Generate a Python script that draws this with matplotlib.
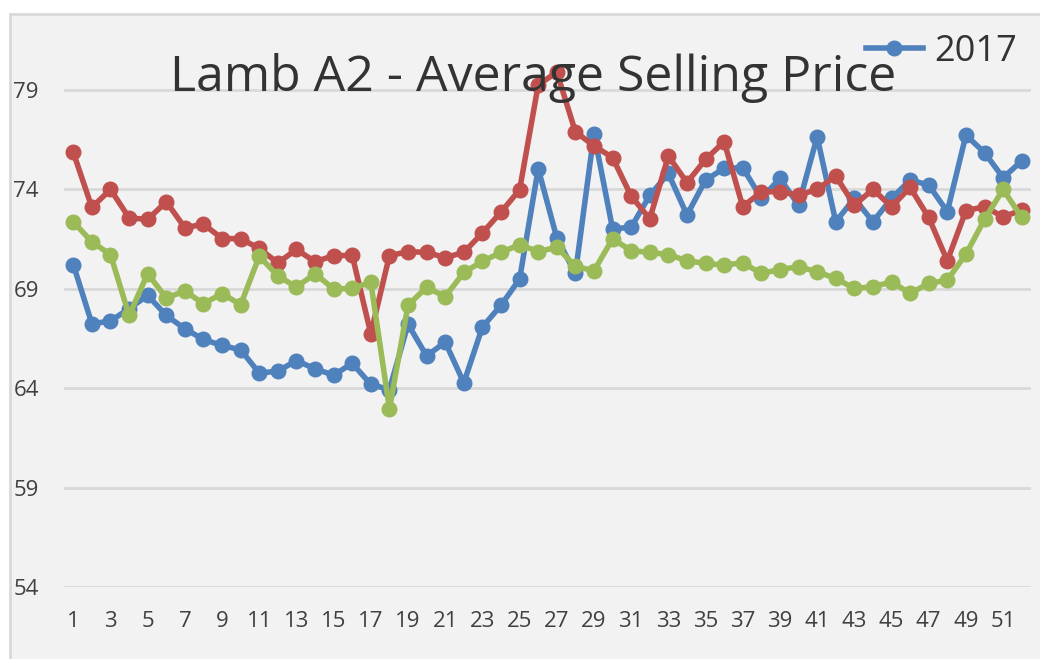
import matplotlib.pyplot as plt
from matplotlib.patches import Rectangle
from matplotlib.lines import Line2D

# =========================================================
# DATA
# =========================================================
weeks = list(range(1, 53))

blue_2017 = [70.22, 67.24, 67.38, 68.00, 68.67, 67.66, 66.99, 66.45, 66.15, 65.93,
             64.76, 64.86, 65.39, 64.97, 64.66, 65.25, 64.19, 63.93, 67.22, 65.62,
             66.32, 64.27, 67.08, 68.17, 69.49, 75.04, 71.56, 69.77, 76.81, 72.01,
             72.10, 73.70, 74.80, 72.71, 74.47, 75.06, 75.09, 73.55, 74.55, 73.21,
             76.65, 72.37, 73.55, 72.37, 73.55, 74.47, 74.22, 72.88, 76.73, 75.85,
             74.59, 75.43]

red_series = [75.86, 73.09, 74.00, 72.57, 72.49, 73.38, 72.07, 72.25, 71.53, 71.52,
              71.03, 70.30, 70.98, 70.36, 70.67, 70.68, 66.74, 70.67, 70.87, 70.83,
              70.57, 70.83, 71.81, 72.86, 73.98, 79.25, 79.90, 76.90, 76.19, 75.60,
              73.66, 72.52, 75.68, 74.34, 75.51, 76.40, 73.13, 73.88, 73.88, 73.71,
              74.00, 74.67, 73.21, 74.00, 73.13, 74.10, 72.59, 70.41, 72.93, 73.13,
              72.62, 72.96]

green_series = [72.37, 71.36, 70.72, 67.66, 69.76, 68.54, 68.89, 68.25, 68.76, 68.20,
                70.64, 69.65, 69.09, 69.76, 68.99, 69.02, 69.32, 62.96, 68.18, 69.07,
                68.61, 69.82, 70.38, 70.83, 71.22, 70.87, 71.09, 70.13, 69.91, 71.51,
                70.92, 70.83, 70.72, 70.41, 70.28, 70.19, 70.31, 69.77, 69.97, 70.11,
                69.86, 69.52, 69.02, 69.10, 69.35, 68.77, 69.27, 69.44, 70.74, 72.49,
                74.00, 72.59]

y_ticks = [54, 59, 64, 69, 74, 79]
title = "Lamb A2 - Average Selling Price"

# =========================================================
# PLOT
# =========================================================
plt.rcParams['font.family'] = ['Open Sans', 'DejaVu Sans']

W, H = 1040, 659
fig = plt.figure(figsize=(W / 100, H / 100), dpi=100)
fig.patch.set_facecolor('white')

# chart area (light gray with thin border)
fig.patches.append(Rectangle((10 / W, -0.1), 1.2, 1.1 - 14 / H, transform=fig.transFigure,
                             facecolor='#f2f2f2', edgecolor='#d9d9d9', linewidth=2,
                             zorder=-5))

ax = fig.add_axes([64 / W, 1 - 587 / H, (1031 - 64) / W, (587 - 14) / H])
ax.set_facecolor('none')
ax.set_zorder(1)

blue, red, green = '#4f81bd', '#c0504d', '#9bbb59'
style = dict(linewidth=4, marker='o', markersize=10.5, solid_capstyle='round',
             solid_joinstyle='round')
ax.plot(weeks, blue_2017, color=blue, zorder=3, **style)
ax.plot(weeks, red_series, color=red, zorder=4, **style)
ax.plot(weeks, green_series, color=green, zorder=5, **style)

ax.set_xlim(0.5, 52.5)
ax.set_ylim(54, 79 + (90 - 14) / 19.88)
ax.set_yticks(y_ticks)
ax.set_xticks(weeks[::2])
ax.grid(axis='y', color='#d9d9d9', linewidth=2)
ax.set_axisbelow(True)
for s in ax.spines.values():
    s.set_visible(False)
ax.tick_params(axis='both', length=0, labelsize=16, labelcolor='#404040')
ax.tick_params(axis='x', pad=17)
ax.tick_params(axis='y', pad=18)

# title overlays the plot, like Excel
ax.text(0.485, 1 - 77 / 573, title, transform=ax.transAxes, ha='center', va='baseline',
        fontsize=36, color='#333333', zorder=10)

handle = Line2D([], [], color=blue, linewidth=4, marker='o', markersize=10.5)
leg = ax.legend(handles=[handle], labels=['2017'], loc='upper right',
                bbox_to_anchor=((1017 - 64) / 967, 1 - 20 / 573), frameon=False,
                fontsize=26, handlelength=1.6, handletextpad=0.3,
                borderpad=0, borderaxespad=0, numpoints=1)
leg.set_zorder(11)
for t in leg.get_texts():
    t.set_color('#333333')

plt.savefig("out.png", dpi=100, facecolor=fig.get_facecolor())
plt.close()
